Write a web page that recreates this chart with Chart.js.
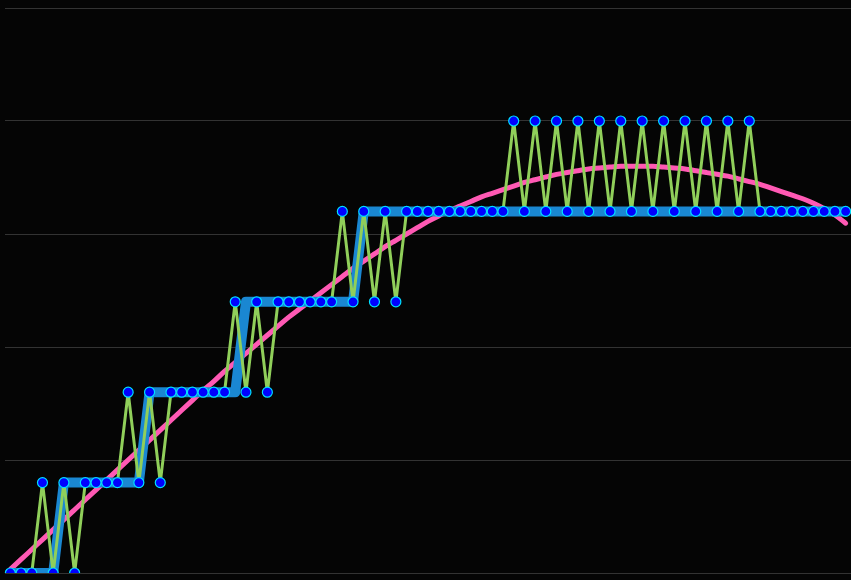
<!DOCTYPE html>
<html>
<head>
<meta charset="utf-8">
<script src="https://cdn.jsdelivr.net/npm/chart.js@4"></script>
<style>
  html, body { margin: 0; padding: 0; background: #050505; }
  #wrap { width: 851px; height: 580px; }
</style>
</head>
<body>
<div id="wrap"><canvas id="myChart"></canvas></div>
<script>
// raw signal (green zigzag with markers)
const signalValues = [0,0,0,1,0,1,0,1,1,1,1,2,1,2,1,2,2,2,2,2,2,3,2,3,2,3,3,3,3,3,3,4,3,4,3,4,3,4,4,4,
                      4,4,4,4,4,4,4,5,4,5,4,5,4,5,4,5,4,5,4,5,4,5,4,5,4,5,4,5,4,5,4,4,4,4,4,4,4,4,4];
// stepped level (thick blue)
const stepValues = [0,0,0,0,0,1,1,1,1,1,1,1,1,2,2,2,2,2,2,2,2,2,3,3,3,3,3,3,3,3,3,3,3,4,4,4,4,4,4,4,
                    4,4,4,4,4,4,4,4,4,4,4,4,4,4,4,4,4,4,4,4,4,4,4,4,4,4,4,4,4,4,4,4,4,4,4,4,4,4,4];
// smooth trend (pink)
const trendValues = [0.04,0.15,0.26,0.37,0.48,0.59,0.70,0.81,0.92,1.03,1.14,1.25,1.36,1.47,1.58,1.69,1.80,1.91,2.02,2.12,
                     2.23,2.33,2.43,2.53,2.63,2.73,2.83,2.92,3.01,3.10,3.19,3.28,3.37,3.45,3.53,3.61,3.68,3.75,3.82,3.89,
                     3.95,4.01,4.06,4.11,4.16,4.20,4.24,4.28,4.32,4.35,4.38,4.41,4.43,4.45,4.47,4.48,4.49,4.50,4.50,4.50,
                     4.50,4.49,4.48,4.47,4.45,4.43,4.41,4.39,4.36,4.33,4.30,4.26,4.22,4.18,4.14,4.09,4.03,3.96,3.87];
const labels = signalValues.map((v, i) => String(i));
const yTicks = { min: 0, max: 6.25, step: 1.25 };

const bgPlugin = {
    id: 'bg',
    beforeDraw(chart) {
        const ctx = chart.ctx;
        ctx.save();
        ctx.fillStyle = '#050505';
        ctx.fillRect(0, 0, chart.width, chart.height);
        ctx.restore();
    }
};

new Chart('myChart', {
    type: 'line',
    data: {
        labels: labels,
        datasets: [
            {
                data: signalValues,
                borderColor: '#90cf5a',
                borderWidth: 3,
                tension: 0,
                borderJoinStyle: 'round',
                pointRadius: 5,
                pointBackgroundColor: '#0000ff',
                pointBorderColor: '#00e0ff',
                pointBorderWidth: 1.2,
                order: 1
            },
            {
                data: stepValues,
                borderColor: '#1a87d2',
                borderWidth: 10,
                tension: 0,
                borderJoinStyle: 'round',
                borderCapStyle: 'round',
                pointRadius: 0,
                order: 2
            },
            {
                data: trendValues,
                borderColor: '#ff59b4',
                borderWidth: 5,
                cubicInterpolationMode: 'monotone',
                borderCapStyle: 'round',
                borderJoinStyle: 'round',
                pointRadius: 0,
                order: 3
            }
        ]
    },
    options: {
        responsive: true,
        maintainAspectRatio: false,
        animation: false,
        layout: { autoPadding: false, padding: { left: 5, top: 8, right: 0, bottom: 7 } },
        plugins: {
            legend: { display: false },
            tooltip: { enabled: false }
        },
        scales: {
            x: {
                display: false,
                offset: true
            },
            y: {
                min: yTicks.min,
                max: yTicks.max,
                ticks: { display: false, stepSize: yTicks.step },
                border: { display: false },
                grid: { color: '#333333', drawTicks: false }
            }
        }
    },
    plugins: [bgPlugin]
});
</script>
</body>
</html>
